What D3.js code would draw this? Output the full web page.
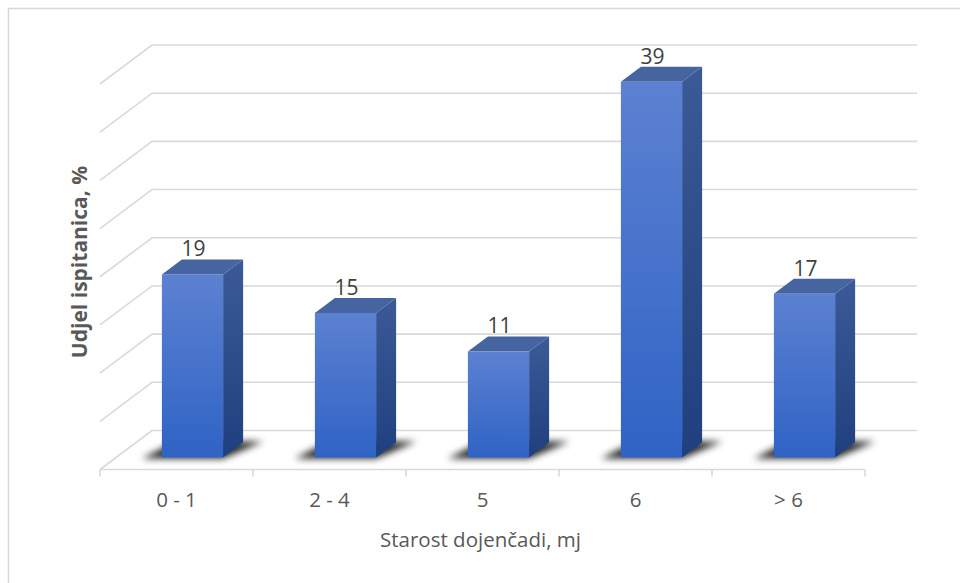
<!DOCTYPE html>
<html>
<head>
<meta charset="utf-8">
<script src="https://cdn.jsdelivr.net/npm/d3@7"></script>
<style>
  html, body { margin: 0; padding: 0; background: #fff; }
  svg { display: block; }
  text { font-family: "Open Sans", "Noto Sans", sans-serif; }
</style>
</head>
<body>
<svg id="chart" width="960" height="583"></svg>
<script>
// ---- data ----
const categories = ["0 - 1", "2 - 4", "5", "6", "> 6"];
const values = [19, 15, 11, 39, 17];
const yTicks = [0, 5, 10, 15, 20, 25, 30, 35, 40];
const xTitle = "Starost dojenčadi, mj";
const yTitle = "Udjel ispitanica, %";

const svg = d3.select("#chart");

// oblique 3D setup: depth t in [0 (back wall), 1 (front edge)]
const depthDX = -52, depthDY = 39;
const tFront = 0.6925, tBack = 0.3075;

// scales on the back-wall plane
const x = d3.scaleBand().domain(categories).range([152, 917]).paddingInner(0.6).paddingOuter(0.3);
const xBand = d3.scaleBand().domain(categories).range([152, 917]).padding(0);
const y = d3.scaleLinear().domain([0, 40]).range([430.5, 45]);

const grid = "#d9d9d9";
const textCol = "#595959";

// border
svg.append("rect").attr("x", 8.5).attr("y", 8.5).attr("width", 980).attr("height", 600)
  .attr("fill", "#fff").attr("stroke", "#d9d9d9").attr("stroke-width", 1.5);

const defs = svg.append("defs");
const gFront = defs.append("linearGradient").attr("id", "gFront").attr("x1", 0).attr("y1", 0).attr("x2", 0).attr("y2", 1);
gFront.append("stop").attr("offset", "0%").attr("stop-color", "#5c81d1");
gFront.append("stop").attr("offset", "100%").attr("stop-color", "#2f63c5");
const gSide = defs.append("linearGradient").attr("id", "gSide").attr("x1", 0).attr("y1", 0).attr("x2", 0).attr("y2", 1);
gSide.append("stop").attr("offset", "0%").attr("stop-color", "#3b5a97");
gSide.append("stop").attr("offset", "100%").attr("stop-color", "#1f3f7e");
const blur = defs.append("filter").attr("id", "blur").attr("x", "-50%").attr("y", "-100%").attr("width", "200%").attr("height", "300%");
blur.append("feGaussianBlur").attr("stdDeviation", 3.5);

// gridlines: back wall + side wall diagonals
const gGrid = svg.append("g").attr("stroke", grid).attr("stroke-width", 1.6).attr("fill", "none");
yTicks.forEach(v => {
  const yy = y(v);
  const x0 = xBand.range()[0], x1 = xBand.range()[1];
  gGrid.append("path").attr("d", d3.line()([[x0 + depthDX, yy + depthDY], [x0, yy], [x1, yy]]));
});
// front floor edge + ticks
const fy = y(0) + depthDY;
const fx0 = xBand.range()[0] + depthDX, fx1 = xBand.range()[1] + depthDX;
gGrid.append("path").attr("d", d3.line()([[fx0, fy], [fx1, fy]]));
const bounds = categories.map(c => xBand(c)).concat([xBand.range()[1]]);
bounds.forEach(b => {
  gGrid.append("path").attr("d", d3.line()([[b + depthDX, fy], [b + depthDX, fy + 7]]));
});

const bDX = depthDX * (tBack - tFront), bDY = depthDY * (tBack - tFront); // front->back offset (+20,-15)

// shadows
const gShadow = svg.append("g").attr("filter", "url(#blur)");
categories.forEach((c, i) => {
  const x0 = x(c) + depthDX * tFront, x1 = x0 + x.bandwidth();
  const base = y(0) + depthDY * tFront;
  gShadow.append("path")
    .attr("d", d3.line()([[x0 - 20, base + 1], [x1, base + 1], [x1 + bDX + 20, base + bDY - 1], [x0 + bDX - 6, base + bDY - 1]]) + "Z")
    .attr("fill", "#000").attr("opacity", 0.85);
});

// bars
const gBars = svg.append("g");
categories.forEach((c, i) => {
  const v = values[i];
  const x0 = x(c) + depthDX * tFront, x1 = x0 + x.bandwidth();
  const base = y(0) + depthDY * tFront;
  const top = y(v) + depthDY * tFront;
  const g = gBars.append("g");
  g.append("path").attr("d", d3.line()([[x1, top], [x1 + bDX, top + bDY], [x1 + bDX, base + bDY], [x1, base]]) + "Z")
    .attr("fill", "url(#gSide)");
  g.append("path").attr("d", d3.line()([[x0, top], [x0 + bDX, top + bDY], [x1 + bDX, top + bDY], [x1, top]]) + "Z")
    .attr("fill", "#46649f");
  g.append("rect").attr("x", x0).attr("y", top).attr("width", x1 - x0).attr("height", base - top)
    .attr("fill", "url(#gFront)");
  // data label
  svg.append("text").attr("x", (x0 + x1) / 2 + 1).attr("y", top + bDY - 3)
    .attr("text-anchor", "middle").attr("font-size", 21).attr("fill", "#404040").text(v);
});

// category labels
categories.forEach(c => {
  svg.append("text").attr("x", xBand(c) + xBand.bandwidth() / 2 + depthDX).attr("y", 507)
    .attr("text-anchor", "middle").attr("font-size", 20.5).attr("fill", textCol).text(c);
});

// axis titles
svg.append("text").attr("x", 480.5).attr("y", 547).attr("text-anchor", "middle")
  .attr("font-size", 20.5).attr("fill", textCol).text(xTitle);
svg.append("text").attr("transform", "translate(87,262) rotate(-90)").attr("text-anchor", "middle")
  .attr("font-size", 21).attr("font-weight", "bold").attr("fill", textCol).text(yTitle);
</script>
</body>
</html>
